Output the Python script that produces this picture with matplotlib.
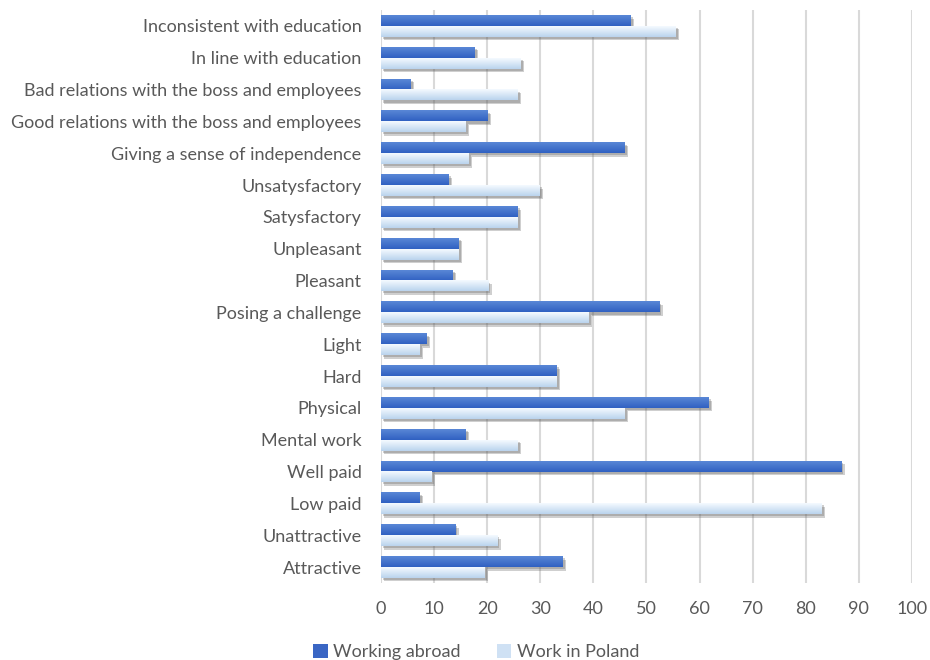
import numpy as np
import matplotlib
matplotlib.use('Agg')
import matplotlib.pyplot as plt
import matplotlib.patheffects as pe
from matplotlib.patches import Patch

# categories listed from bottom to top, as on the chart
categories = ['Attractive', 'Unattractive', 'Low paid', 'Well paid', 'Mental work',
              'Physical', 'Hard', 'Light', 'Posing a challenge', 'Pleasant',
              'Unpleasant', 'Satysfactory', 'Unsatysfactory',
              'Giving a sense of independence',
              'Good relations with the boss and employees',
              'Bad relations with the boss and employees',
              'In line with education', 'Inconsistent with education']
working_abroad = [34.2, 14.0, 7.3, 86.7, 15.9, 61.7, 33.1, 8.6, 52.4, 13.5,
                  14.6, 25.7, 12.7, 45.9, 20.1, 5.6, 17.6, 47.0]
work_in_poland = [19.5, 21.9, 83.0, 9.6, 25.7, 45.9, 33.1, 7.3, 39.1, 20.2,
                  14.6, 25.7, 29.9, 16.5, 15.9, 25.7, 26.3, 55.5]
x_ticks = [0, 10, 20, 30, 40, 50, 60, 70, 80, 90, 100]

plt.rcParams['font.family'] = ['Lato', 'DejaVu Sans']
text_color = '#595959'

fig = plt.figure(figsize=(9.3, 6.6), dpi=100)
ax = fig.add_axes([0.4097, 0.1167, 0.5709, 0.8681])

y = np.arange(len(categories))
h = 0.34
# soft-ish drop shadow under each bar
shadow = [pe.SimplePatchShadow(offset=(2.5, -2.5), shadow_rgbFace='#606060', alpha=0.3),
          pe.SimplePatchShadow(offset=(1.5, -1.5), shadow_rgbFace='#606060', alpha=0.3),
          pe.Normal()]

bars_a = ax.barh(y + h / 2, working_abroad, height=h, color='#3e6cc8', zorder=3,
                 path_effects=shadow)
bars_p = ax.barh(y - h / 2, work_in_poland, height=h, color='#d3e4f5', zorder=3,
                 path_effects=shadow)

# vertical gradients on each bar (top -> bottom)
grad_a = np.array([[0.35, 0.53, 0.84], [0.19, 0.38, 0.76]])
grad_p = np.array([[0.96, 0.98, 1.0], [0.73, 0.83, 0.93]])


def paint_gradient(bars, cols):
    t = np.linspace(0, 1, 32)[:, None]
    img = (cols[0] * (1 - t) + cols[1] * t)[:, None, :]
    for b in bars:
        x0, y0 = b.get_x(), b.get_y()
        ax.imshow(img, extent=(x0, x0 + b.get_width(), y0, y0 + b.get_height()),
                  origin='upper', aspect='auto', zorder=4, interpolation='bilinear')


paint_gradient(bars_a, grad_a)
paint_gradient(bars_p, grad_p)

ax.set_xlim(0, 100)
ax.set_ylim(-0.5, len(categories) - 0.5)
ax.set_xticks(x_ticks)
ax.set_yticks(y)
ax.set_yticklabels(categories)
ax.grid(axis='x', color='#d9d9d9', linewidth=1.5, zorder=0)
ax.set_axisbelow(True)
for s in ax.spines.values():
    s.set_visible(False)
ax.tick_params(axis='both', length=0, colors=text_color, labelsize=13)
ax.tick_params(axis='y', pad=14)
ax.tick_params(axis='x', pad=13)

handles = [Patch(facecolor='#3a66c4', label='Working abroad'),
           Patch(facecolor='#cfe1f4', label='Work in Poland')]
leg = fig.legend(handles=handles, loc='center', bbox_to_anchor=(0.512, 0.012), ncol=2,
                 frameon=False, fontsize=13, handlelength=0.8, handleheight=0.8,
                 handletextpad=0.3, columnspacing=2.0)
for t in leg.get_texts():
    t.set_color(text_color)

fig.savefig('out.png', dpi=100)
